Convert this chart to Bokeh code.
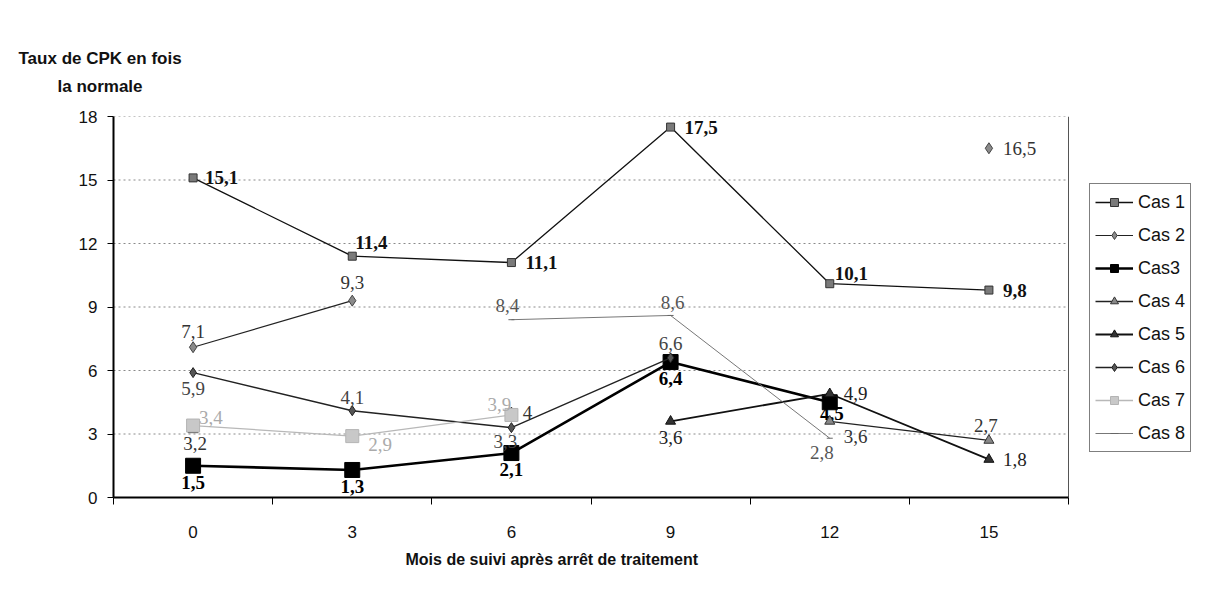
import math
from bokeh.plotting import figure
from bokeh.models import ColumnDataSource, FixedTicker, Title, Legend, LegendItem
from bokeh.core.properties import value
from bokeh.embed import file_html
from bokeh.resources import INLINE

nan = float("nan")

# ---------------- data ----------------
months = [0, 3, 6, 9, 12, 15]
series_names = ["Cas 1", "Cas 2", "Cas3", "Cas 4", "Cas 5", "Cas 6", "Cas 7", "Cas 8"]
cas1 = [15.1, 11.4, 11.1, 17.5, 10.1, 9.8]
cas2 = [7.1, 9.3, nan, nan, nan, 16.5]
cas3 = [1.5, 1.3, 2.1, 6.4, 4.5, nan]
cas4 = [3.2, nan, 4.0, nan, 3.6, 2.7]
cas5 = [nan, nan, nan, 3.6, 4.9, 1.8]
cas6 = [5.9, 4.1, 3.3, 6.6, nan, nan]
cas7 = [3.4, 2.9, 3.9, nan, nan, nan]
cas8 = [nan, nan, 8.4, 8.6, 2.8, nan]
y_ticks = [0, 3, 6, 9, 12, 15, 18]
x_title = "Mois de suivi après arrêt de traitement"
y_title_lines = ["Taux de CPK en fois", "la normale"]

all_series = [cas1, cas2, cas3, cas4, cas5, cas6, cas7, cas8]

# ---------------- styles ----------------
styles = [
    dict(marker="square", size=8, fill="#7a7a7a", mline="#333333", lw=1.3, lc="#111111",
         tc="#111111", bold=True,
         offs=[(12, 0, "left"), (3, -14, "left"), (14, 0, "left"), (14, 0, "left"), (5, -10, "left"), (14, 0, "left")]),
    dict(marker="diamond", size=11, fill="#8a8a8a", mline="#444444", lw=1.1, lc="#222222",
         tc="#333333", bold=False,
         offs=[(0, -16, "center"), (0, -18, "center"), None, None, None, (14, 0, "left")]),
    dict(marker="square", size=15, fill="#000000", mline="#000000", lw=2.6, lc="#000000",
         tc="#000000", bold=True,
         offs=[(0, 17, "center"), (0, 17, "center"), (0, 16, "center"), (0, 16, "center"), (2, 11, "center"), None]),
    dict(marker="triangle", size=10, fill="#888888", mline="#333333", lw=1.3, lc="#222222",
         tc="#333333", bold=False,
         offs=[(2, 14, "center"), None, (16, 0, "center"), None, (14, 15, "left"), (-3, -15, "center")]),
    dict(marker="triangle", size=10, fill="#333333", mline="#111111", lw=1.8, lc="#111111",
         tc="#222222", bold=False,
         offs=[None, None, None, (0, 16, "center"), (14, 0, "left"), (14, 0, "left")]),
    dict(marker="diamond", size=10, fill="#555555", mline="#222222", lw=1.4, lc="#222222",
         tc="#444444", bold=False,
         offs=[(0, 16, "center"), (0, -13, "center"), (-6, 14, "center"), (0, -14, "center"), None, None]),
    dict(marker="square", size=13, fill="#c8c8c8", mline="#b4b4b4", lw=1.3, lc="#b8b8b8",
         tc="#aaaaaa", bold=False,
         offs=[(6, -8, "left"), (16, 8, "left"), (-12, -10, "center"), None, None, None]),
    dict(marker="dash", size=6, fill="#666666", mline="#666666", lw=1.0, lc="#777777",
         tc="#555555", bold=False,
         offs=[None, None, (-4, -14, "center"), (2, -13, "center"), (-8, 14, "center"), None]),
]

W, H = 1197, 597
FL, FT, FR, FB = 113, 116, 1068, 497  # plot-area edges in figure px
step = months[1] - months[0]
x_lo = months[0] - step / 2.0
x_hi = months[-1] + step / 2.0
ppx = (FR - FL) / (x_hi - x_lo)
x_end = x_hi + (W - FR) / ppx          # frame extends right to hold the legend
y_lo, y_hi = y_ticks[0], y_ticks[-1]

p = figure(frame_width=W - FL, frame_height=FB - FT,
           x_range=(x_lo, x_end), y_range=(y_lo, y_hi),
           output_backend="svg", toolbar_location=None,
           min_border_left=FL, min_border_right=0,
           min_border_top=FT, min_border_bottom=H - FB)
p.background_fill_color = "white"
p.border_fill_color = "white"
p.outline_line_color = None
p.xgrid.grid_line_color = None
p.ygrid.grid_line_color = None

# plot-area grid lines and right border (limited to the plot area)
gy = y_ticks[1:]
p.segment(x0=[x_lo] * len(gy), x1=[x_hi] * len(gy), y0=gy, y1=gy,
          line_color="#8a8a8a", line_dash="2 3", line_width=1)
p.segment(x0=[x_hi], x1=[x_hi], y0=[y_lo], y1=[y_hi], line_color="#555555", line_width=1)

# y axis
p.yaxis.ticker = FixedTicker(ticks=y_ticks)
p.yaxis.axis_line_width = 2
p.yaxis.axis_line_color = "black"
p.yaxis.major_tick_out = 6
p.yaxis.major_tick_in = 0
p.yaxis.minor_tick_line_color = None
p.yaxis.major_label_text_font = "Liberation Sans"
p.yaxis.major_label_text_font_size = "17px"
p.yaxis.major_label_text_color = "#111111"
p.yaxis.major_label_standoff = 10

# x axis: labels at months, tick marks between categories
between = [x_lo + i * step for i in range(len(months) + 1)]
p.xaxis.ticker = FixedTicker(ticks=months, minor_ticks=between)
p.xaxis.bounds = (x_lo, x_hi)
p.xaxis.axis_line_width = 2
p.xaxis.axis_line_color = "black"
p.xaxis.major_tick_line_color = None
p.xaxis.major_tick_out = 0
p.xaxis.major_tick_in = 0
p.xaxis.minor_tick_out = 7
p.xaxis.minor_tick_in = 0
p.xaxis.minor_tick_line_color = "black"
p.xaxis.minor_tick_line_width = 1
p.xaxis.major_label_text_font = "Liberation Sans"
p.xaxis.major_label_text_font_size = "17px"
p.xaxis.major_label_text_color = "#111111"
p.xaxis.major_label_standoff = 21

xt = Title(text=x_title, align="left", offset=405 - FL, standoff=17,
           text_font="Liberation Sans", text_font_style="bold", text_font_size="16px",
           text_color="#111111")
p.add_layout(xt, "below")

# y title (two lines above the plot, left)
t2 = Title(text=y_title_lines[1], align="left", offset=57 - FL, standoff=41,
           text_font="Liberation Sans", text_font_style="bold", text_font_size="17px",
           text_color="#111111")
t1 = Title(text=y_title_lines[0], align="left", offset=18 - FL, standoff=-26,
           text_font="Liberation Sans", text_font_style="bold", text_font_size="17px",
           text_color="#111111")
p.add_layout(t2, "above")
p.add_layout(t1, "above")


def fmt(v):
    s = ("%.1f" % v).rstrip("0").rstrip(".")
    return s.replace(".", ",")


legend_items = []
for name, ys, st in zip(series_names, all_series, styles):
    src = ColumnDataSource(dict(x=months, y=ys))
    r_line = p.line("x", "y", source=src, line_color=st["lc"], line_width=st["lw"])
    pts = [(x, y) for x, y in zip(months, ys) if not math.isnan(y)]
    msrc = ColumnDataSource(dict(x=[a for a, b in pts], y=[b for a, b in pts]))
    r_m = p.scatter("x", "y", source=msrc, marker=st["marker"], size=st["size"],
                    fill_color=st["fill"], line_color=st["mline"], line_width=1)
    legend_items.append(LegendItem(label=name, renderers=[r_line, r_m]))
    for align in ("left", "center"):
        lx, ly, lt, dx, dy = [], [], [], [], []
        for (x, y, o) in zip(months, ys, st["offs"]):
            if math.isnan(y) or o is None or o[2] != align:
                continue
            lx.append(x); ly.append(y); lt.append(fmt(y)); dx.append(o[0]); dy.append(o[1])
        if not lx:
            continue
        tsrc = ColumnDataSource(dict(x=lx, y=ly, t=lt, dx=dx, dy=dy))
        p.text("x", "y", text="t", source=tsrc, x_offset="dx", y_offset="dy",
               text_align=align, text_baseline="middle",
               text_font=value("Liberation Serif"),
               text_font_style="bold" if st["bold"] else "normal",
               text_font_size="19px", text_color=st["tc"])

legend = Legend(items=legend_items, location=(1089 - FL, FB - 452),
                label_text_font="Liberation Sans", label_text_font_size="18px",
                label_text_color="#111111", glyph_width=38, glyph_height=20,
                label_height=26, spacing=7, padding=5, margin=0,
                border_line_color="black", border_line_width=1.5,
                background_fill_color="white", background_fill_alpha=1,
                label_standoff=5)
p.add_layout(legend, "center")

html = file_html(p, INLINE)
open("out.html", "w").write(html)
